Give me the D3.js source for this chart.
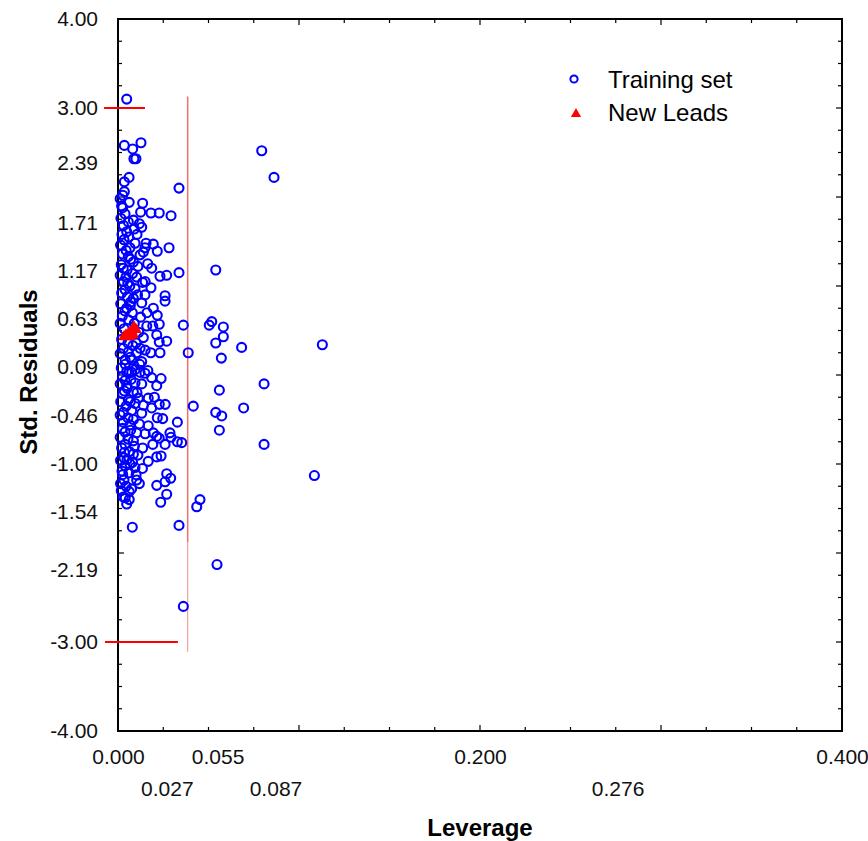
<!DOCTYPE html>
<html>
<head>
<meta charset="utf-8">
<script src="https://cdn.jsdelivr.net/npm/d3@7"></script>
<style>
  body { margin: 0; background: #fff; }
  text { font-family: "Liberation Sans", Arial, sans-serif; }
</style>
</head>
<body>
<div id="chart-Div"></div>
<script>

// leverage / std. residual pairs
let trainingSet = [
  [.0048, 3.10], [.0035, 2.58], [.0081, 2.54], [.0127, 2.61], [.0088, 2.43], [.0099, 2.43],
  [.0061, 2.22], [.0035, 2.17], [.0337, 2.10], [.0035, 2.06], [.0026, 2.02], [.0062, 1.94],
  [.0136, 1.93], [.0026, 1.88], [.0125, 1.83], [.0182, 1.82], [.0228, 1.82], [.0293, 1.79],
  [.0039, 1.81], [.0057, 1.72], [.0085, 1.74], [.0118, 1.70], [.0131, 1.66], [.0048, 1.61],
  [.0090, 1.64], [.0033, 1.52], [.0094, 1.48], [.0155, 1.48], [.0195, 1.47], [.0066, 1.43],
  [.0149, 1.43], [.0217, 1.39], [.0282, 1.43], [.0057, 1.33], [.0122, 1.35], [.0164, 1.25],
  [.0186, 1.20], [.0029, 1.20], [.0085, 1.27], [.0044, 1.10], [.0103, 1.10], [.0136, 1.04],
  [.0232, 1.11], [.0269, 1.12], [.0337, 1.15], [.0054, 1.03], [.0094, 0.97], [.0182, 0.98],
  [.0039, 0.96], [.0149, 0.90], [.0260, 0.89], [.0260, 0.83], [.0070, 0.82], [.0131, 0.81],
  [.0195, 0.75], [.0048, 0.75], [.0079, 0.70], [.0217, 0.67], [.0125, 0.65], [.0361, 0.56],
  [.0159, 0.55], [.0228, 0.57], [.0192, 0.55], [.0214, 0.45], [.0140, 0.42], [.0269, 0.38],
  [.0228, 0.37], [.0388, 0.25], [.0057, 0.26], [.0122, 0.30], [.0181, 0.25], [.0232, 0.25],
  [.0103, 0.25], [.0039, 0.17], [.0076, 0.17], [.0131, 0.15], [.0048, 0.04], [.0094, 0.06],
  [.0076, 0.03], [.0122, 0.03], [.0149, 0.02], [.0186, -0.03], [.0238, -0.04], [.0039, -0.06],
  [.0094, -0.09], [.0131, -0.10], [.0214, -0.12], [.0051, -0.15], [.0026, -0.21], [.0085, -0.19],
  [.0112, -0.26], [.0167, -0.26], [.0201, -0.25], [.0057, -0.28], [.0228, -0.33], [.0261, -0.33],
  [.0416, -0.35], [.0029, -0.42], [.0076, -0.40], [.0131, -0.43], [.0186, -0.37], [.0217, -0.48],
  [.0247, -0.49], [.0328, -0.53], [.0029, -0.53], [.0066, -0.56], [.0167, -0.57], [.0039, -0.64],
  [.0103, -0.65], [.0195, -0.65], [.0214, -0.69], [.0287, -0.65], [.0293, -0.70], [.0228, -0.71],
  [.0039, -0.78], [.0085, -0.74], [.0192, -0.78], [.0260, -0.78], [.0328, -0.75], [.0352, -0.76],
  [.0136, -0.82], [.0035, -0.87], [.0085, -0.89], [.0214, -0.92], [.0238, -0.91], [.0167, -0.97],
  [.0033, -0.93], [.0066, -1.00], [.0039, -1.02], [.0094, -1.04], [.0269, -1.11], [.0026, -1.12],
  [.0291, -1.16], [.0033, -1.18], [.0103, -1.18], [.0214, -1.24], [.0260, -1.20], [.0118, -1.22],
  [.0062, -1.31], [.0029, -1.37], [.0269, -1.34], [.0048, -1.45], [.0236, -1.43], [.0435, -1.48],
  [.0453, -1.40], [.0079, -1.71], [.0337, -1.69], [.0361, -2.60],
  [.0794, 2.52], [.0862, 2.22], [.0540, 1.18], [.0504, 0.56], [.0518, 0.60], [.0582, 0.54],
  [.0582, 0.43], [.0540, 0.36], [.0683, 0.31], [.1129, 0.34], [.0571, 0.19], [.0807, -0.10],
  [.0560, -0.17], [.0540, -0.42], [.0573, -0.46], [.0694, -0.37], [.0560, -0.62], [.0807, -0.78],
  [.1085, -1.13], [.0547, -2.13],
  [.0012, 1.98], [.0020, 1.90], [.0016, 1.76], [.0030, 1.68], [.0022, 1.58], [.0060, 1.55],
  [.0014, 1.46], [.0045, 1.40], [.0025, 1.36], [.0070, 1.30], [.0018, 1.24], [.0050, 1.18],
  [.0080, 1.14], [.0012, 1.12], [.0030, 1.05], [.0065, 1.00], [.0020, 0.92], [.0052, 0.88],
  [.0085, 0.86], [.0015, 0.80], [.0038, 0.72], [.0068, 0.78], [.0024, 0.66], [.0058, 0.62],
  [.0012, 0.58], [.0090, 0.58], [.0034, 0.52], [.0020, 0.40], [.0055, 0.36], [.0082, 0.33],
  [.0030, 0.30], [.0012, 0.24], [.0068, 0.20], [.0040, 0.12], [.0018, 0.08], [.0088, 0.10],
  [.0060, 0.02], [.0025, -0.02], [.0012, -0.10], [.0048, -0.12], [.0072, -0.05], [.0035, -0.18],
  [.0015, -0.30], [.0068, -0.30], [.0045, -0.35], [.0095, -0.32], [.0012, -0.45], [.0055, -0.48],
  [.0085, -0.50], [.0025, -0.60], [.0070, -0.62], [.0012, -0.70], [.0055, -0.72], [.0090, -0.80],
  [.0020, -0.82], [.0062, -0.86], [.0014, -0.96], [.0050, -0.95], [.0080, -0.98], [.0022, -1.08],
  [.0060, -1.10], [.0014, -1.22], [.0045, -1.25], [.0075, -1.28], [.0018, -1.30], [.0040, -1.38],
  [.0062, -1.40],
  [.0105, 1.58], [.0140, 1.38], [.0110, 1.22], [.0150, 1.05], [.0108, 0.90], [.0160, 0.70],
  [.0115, 0.48], [.0100, 0.36], [.0150, 0.28], [.0120, 0.12], [.0165, 0.05], [.0105, -0.20],
  [.0140, -0.34], [.0118, -0.55], [.0150, -0.66], [.0110, -0.90], [.0135, -1.05], [.0100, -1.12]
];

let newLeads = [
  [.0044, 0.45], [.0061, 0.47], [.0077, 0.49], [.0088, 0.54], [.0099, 0.51],
  [.0066, 0.43], [.0033, 0.43], [.0083, 0.45]
];

let yTickLabels = [4, 3, 2.39, 1.71, 1.17, 0.63, 0.09, -0.46, -1, -1.54, -2.19, -3, -4];
let xTickRow1 = [0, 0.055, 0.2, 0.4];
let xTickRow2 = [0.027, 0.087, 0.276];

// warning leverage h* and the +/-3 residual limits
let hStar = 0.0385;
let hStarSpan = [3.13, -3.11];
let residLimits = [[3, -0.0077, 0.0149], [-3, -0.0072, 0.0331]];

let width = 868, height = 841;
let margin = {left: 118, right: 26, top: 19, bottom: 110};

let svg = d3.select('#chart-Div')
    .append('svg')
    .attr('width', width)
    .attr('height', height);

let xScale = d3.scaleLinear()
    .domain([0, 0.4])
    .range([margin.left, width - margin.right]);
let yScale = d3.scaleLinear()
    .domain([-4, 4])
    .range([height - margin.bottom, margin.top]);

let x0 = xScale.range()[0], x1 = xScale.range()[1];
let yTop = yScale.range()[1], yBot = yScale.range()[0];

// inward ticks on all four sides
let xMinor = d3.range(0, 0.4001, 0.025);
let yMinor = d3.range(-4, 4.001, 0.25);
let tickG = svg.append('g').attr('stroke', 'black').attr('stroke-width', 1.2);
xMinor.forEach((v, i) => {
    let len = i % 4 === 0 ? 6 : 4;
    tickG.append('line').attr('x1', xScale(v)).attr('x2', xScale(v))
        .attr('y1', yBot).attr('y2', yBot - len);
    tickG.append('line').attr('x1', xScale(v)).attr('x2', xScale(v))
        .attr('y1', yTop).attr('y2', yTop + len);
});
yMinor.forEach((v, i) => {
    let len = i % 4 === 0 ? 6 : 4;
    tickG.append('line').attr('y1', yScale(v)).attr('y2', yScale(v))
        .attr('x1', x0).attr('x2', x0 + len);
    tickG.append('line').attr('y1', yScale(v)).attr('y2', yScale(v))
        .attr('x1', x1).attr('x2', x1 - len);
});

svg.append('rect')
    .attr('x', x0).attr('y', yTop)
    .attr('width', x1 - x0).attr('height', yBot - yTop)
    .attr('fill', 'none')
    .attr('stroke', 'black')
    .attr('stroke-width', 2);

// tick labels (plain hyphen for the minus sign)
let fmt2 = d => d.toFixed(2);
let fmt3 = d => d.toFixed(3);
let yAxis = svg.append('g')
    .attr('transform', `translate(${x0},0)`)
    .call(d3.axisLeft(yScale).tickValues(yTickLabels).tickSize(0).tickPadding(20).tickFormat(fmt2));
let xAxis1 = svg.append('g')
    .attr('transform', `translate(0,${yBot})`)
    .call(d3.axisBottom(xScale).tickValues(xTickRow1).tickSize(0).tickPadding(18).tickFormat(fmt3));
let xAxis2 = svg.append('g')
    .attr('transform', `translate(0,${yBot})`)
    .call(d3.axisBottom(xScale).tickValues(xTickRow2).tickSize(0).tickPadding(50).tickFormat(fmt3));

[yAxis, xAxis1, xAxis2].forEach(g => {
    g.select('.domain').remove();
    g.selectAll('text')
        .attr('font-family', '"Liberation Sans", Arial, sans-serif')
        .attr('font-size', 21)
        .attr('fill', '#111');
});

// axis titles
svg.append('text')
    .attr('transform', `translate(37,372) rotate(-90)`)
    .attr('text-anchor', 'middle')
    .attr('font-size', 24)
    .attr('font-weight', 'bold')
    .text('Std. Residuals');
svg.append('text')
    .attr('x', (x0 + x1) / 2)
    .attr('y', 836)
    .attr('text-anchor', 'middle')
    .attr('font-size', 24)
    .attr('font-weight', 'bold')
    .text('Leverage');

// threshold lines
svg.append('line')
    .attr('x1', xScale(hStar)).attr('x2', xScale(hStar))
    .attr('y1', yScale(hStarSpan[0])).attr('y2', yScale(-1.88))
    .attr('stroke', '#f07070')
    .attr('stroke-width', 1.5);
svg.append('line')
    .attr('x1', xScale(hStar)).attr('x2', xScale(hStar))
    .attr('y1', yScale(-1.88)).attr('y2', yScale(hStarSpan[1]))
    .attr('stroke', '#f07070')
    .attr('stroke-width', 0.8);

residLimits.forEach(d => {
    svg.append('line')
        .attr('x1', xScale(d[1])).attr('x2', xScale(d[2]))
        .attr('y1', yScale(d[0])).attr('y2', yScale(d[0]))
        .attr('stroke', '#ff0000')
        .attr('stroke-width', 2);
});

// points
svg.append('g')
    .selectAll('circle')
    .data(trainingSet)
    .join('circle')
    .attr('cx', d => xScale(d[0]))
    .attr('cy', d => yScale(d[1]))
    .attr('r', 4.5)
    .attr('fill', 'none')
    .attr('stroke', '#0000ff')
    .attr('stroke-width', 2.1);

let tri = d3.symbol().type(d3.symbolTriangle).size(60);
svg.append('g')
    .selectAll('path')
    .data(newLeads)
    .join('path')
    .attr('transform', d => `translate(${xScale(d[0])},${yScale(d[1])})`)
    .attr('d', tri)
    .attr('fill', '#ff0000');

// legend
let legend = svg.append('g').attr('transform', 'translate(574,0)');
legend.append('circle')
    .attr('cx', 0).attr('cy', 79).attr('r', 3.6)
    .attr('fill', 'none').attr('stroke', '#0000ff').attr('stroke-width', 2);
legend.append('path')
    .attr('transform', 'translate(2,114)')
    .attr('d', d3.symbol().type(d3.symbolTriangle).size(45))
    .attr('fill', '#ff0000');
legend.append('text').attr('x', 34).attr('y', 88).attr('font-size', 24).text('Training set');
legend.append('text').attr('x', 34).attr('y', 121).attr('font-size', 24).text('New Leads');

</script>
</body>
</html>
